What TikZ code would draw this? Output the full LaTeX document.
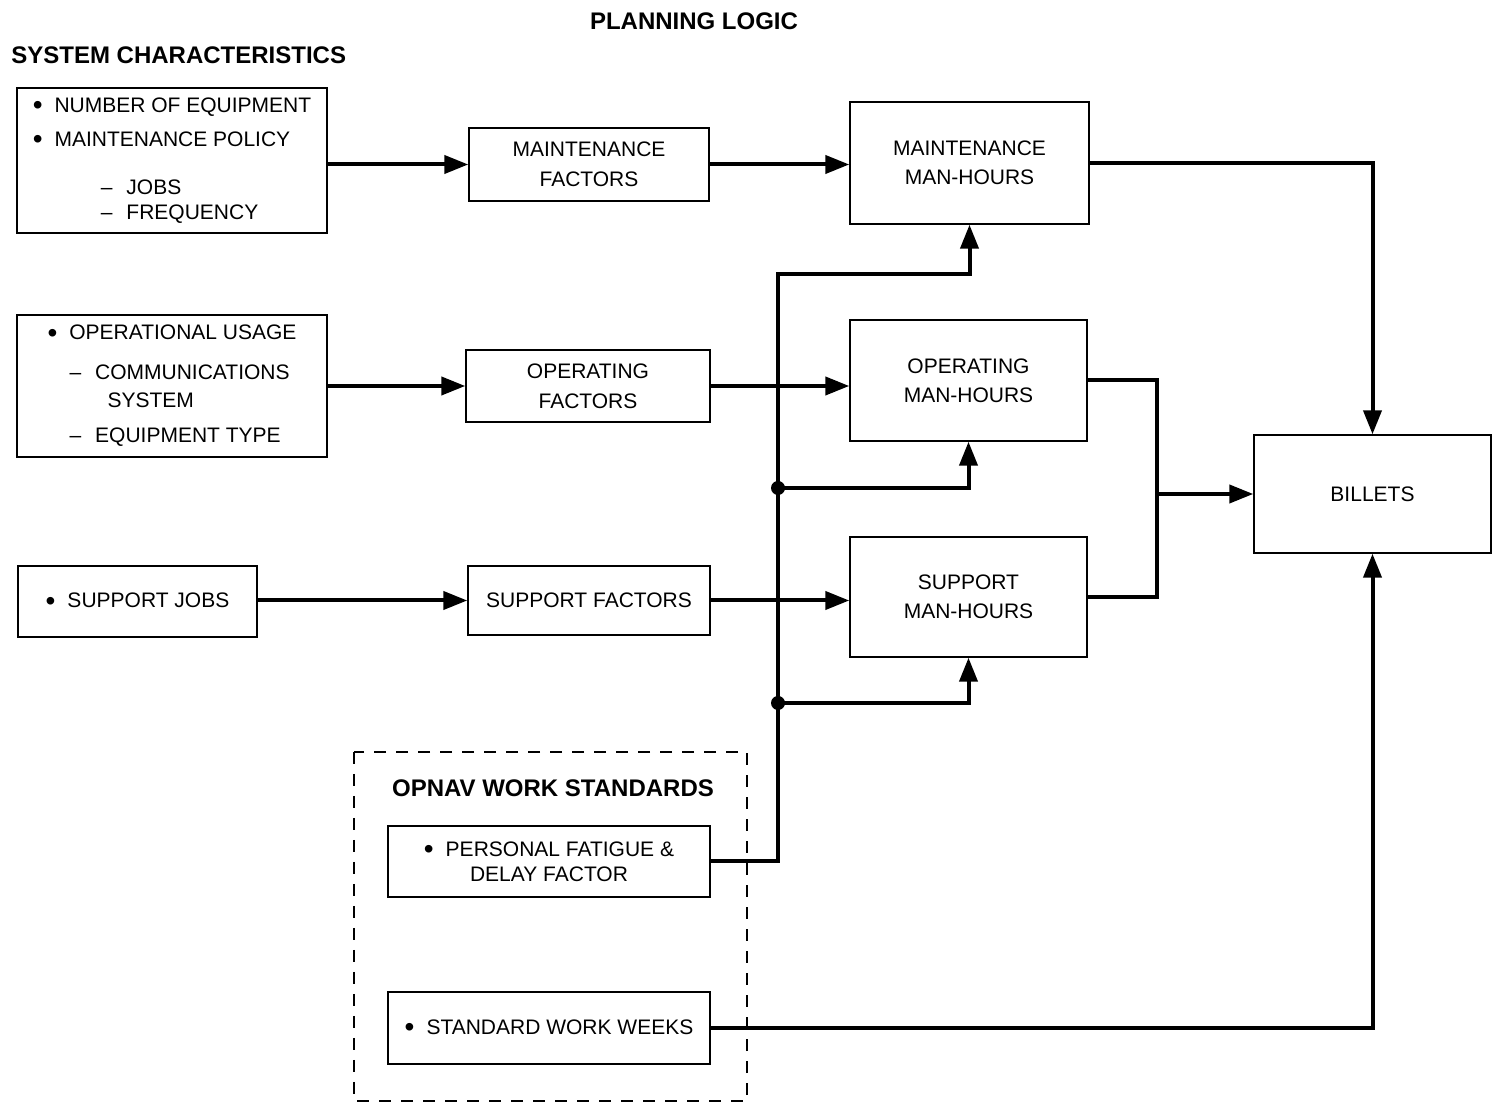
\documentclass[tikz,border=0pt]{standalone}
\usepackage{fontspec}
\setmainfont{Liberation Sans}
\usetikzlibrary{arrows.meta}
\newcommand{\blt}{\raisebox{-1.2pt}{\fontsize{14}{12.5}\selectfont\textbullet}\hspace{6pt}}

\begin{document}
\begin{tikzpicture}[x=0.5pt,y=-0.5pt,
	box/.style={draw,line width=0.7pt,inner sep=0pt,align=center,font=\fontsize{10.5}{12.5}\selectfont},
	flow/.style={line width=2pt,-{Triangle[length=12pt,width=9pt]}},
	link/.style={line width=2pt},
	head/.style={font=\bfseries\fontsize{12}{14}\selectfont},
	frame/.style={line width=0.7pt,dash pattern=on 6pt off 5pt}]
	\useasboundingbox (0,0) rectangle (1495,1111);
	\node[head] (plan) at (694,21) {PLANNING LOGIC};
	\node[head,anchor=west,inner sep=0pt] (sys) at (11,55) {SYSTEM CHARACTERISTICS};
	\node[box,align=left,minimum width=155pt,minimum height=72.5pt] (equip) at (172,160.5)
		{\blt NUMBER OF EQUIPMENT\\[4.5pt]
		\blt MAINTENANCE POLICY\\[11.5pt]
		\hspace*{34pt}–\hspace{7pt}JOBS\\
		\hspace*{34pt}–\hspace{7pt}FREQUENCY};
	\node[box,align=left,minimum width=155pt,minimum height=71pt] (usage) at (172,386)
		{\blt OPERATIONAL USAGE\\[7.5pt]
		\hspace*{11pt}–\hspace{7pt}COMMUNICATIONS\\[1.5pt]
		\hspace*{30pt}SYSTEM\\[5pt]
		\hspace*{11pt}–\hspace{7pt}EQUIPMENT TYPE};
	\node[box,minimum width=119.5pt,minimum height=35.5pt] (jobs) at (137.5,601.5) {\blt SUPPORT JOBS};
	\node[box,minimum width=120pt,minimum height=36.5pt] (mfac) at (589,164.5) {MAINTENANCE\\[2.5pt]FACTORS};
	\node[box,minimum width=122pt,minimum height=36pt] (ofac) at (588,386) {OPERATING\\[2.5pt]FACTORS};
	\node[box,minimum width=121pt,minimum height=34.5pt] (sfac) at (589,600.5) {SUPPORT FACTORS};
	\node[box,minimum width=119.5pt,minimum height=61pt] (mmh) at (969.5,163) {MAINTENANCE\\[2pt]MAN-HOURS};
	\node[box,minimum width=118.5pt,minimum height=60.5pt] (omh) at (968.5,380.5) {OPERATING\\[2pt]MAN-HOURS};
	\node[box,minimum width=118.5pt,minimum height=60pt] (smh) at (968.5,597) {SUPPORT\\[2pt]MAN-HOURS};
	\node[box,minimum width=118.5pt,minimum height=59pt] (bil) at (1372.5,494) {BILLETS};
	\draw[frame] (354,752) rectangle (747,1101);
	\node[head] (opnav) at (553,788) {OPNAV WORK STANDARDS};
	\node[box,minimum width=161pt,minimum height=35.5pt] (pfd) at (549,861.5) {\blt PERSONAL FATIGUE \&\\DELAY FACTOR};
	\node[box,minimum width=161pt,minimum height=36pt] (sww) at (549,1028) {\blt STANDARD WORK WEEKS};
	\coordinate (bus) at (778,274);
	\coordinate (j1) at (778,488);
	\coordinate (j2) at (778,703);
	\coordinate (merge) at (1157,494);
	\draw[flow] (equip.east |- mfac.west) -- (mfac.west);
	\draw[flow] (usage.east) -- (ofac.west);
	\draw[flow] (jobs.east |- sfac.west) -- (sfac.west);
	\draw[flow] (mfac.east) -- (mfac.east -| mmh.west);
	\draw[flow] (ofac.east) -- (ofac.east -| omh.west);
	\draw[flow] (sfac.east) -- (sfac.east -| smh.west);
	\draw[flow] (pfd.east) -| (bus) -| (mmh.south);
	\draw[flow] (j1) -| (omh.south);
	\draw[flow] (j2) -| (smh.south);
	\fill (j1) circle (3.5pt);
	\fill (j2) circle (3.5pt);
	\draw[flow] (mmh.east) -| (bil.north);
	\draw[link] (omh.east) -| (merge) |- (smh.east);
	\draw[flow] (merge) -- (bil.west);
	\draw[flow] (sww.east) -| (bil.south);
\end{tikzpicture}
\end{document}
